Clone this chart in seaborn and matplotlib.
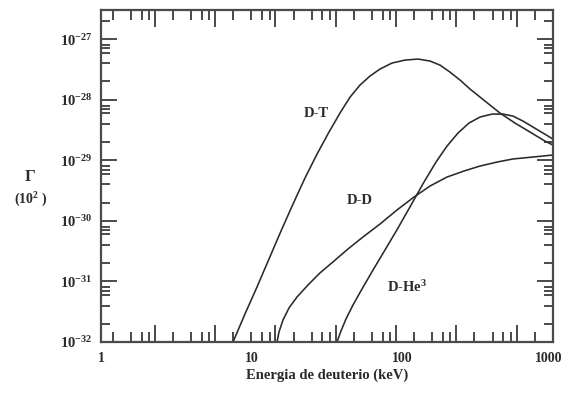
#!/usr/bin/env python3
## reactividad de fusion vs energia de deuterio (log-log)

import matplotlib
matplotlib.use("Agg")
import numpy as np
import pandas as pd
import matplotlib.pyplot as plt
import matplotlib.ticker as mticker
import matplotlib.transforms as mtrans
import seaborn as sns

# valores (keV, reactividad)
dt_energy = [7.52, 9.03, 10.85, 13.03, 15.66, 18.81, 22.59, 27.14, 32.61, 38.58, 44.96, 52.36,
             61.0, 71.07, 85.4, 104.2, 127.0, 152.6, 177.8, 207.2, 241.4, 281.2, 353.8, 444.8,
             559.4, 703.8, 885.0, 1000]
dt_rate = [1.0e-32, 2.9e-32, 8.09e-32, 2.34e-31, 6.79e-31, 1.89e-30, 5.08e-30, 1.26e-29, 2.92e-29,
           6.01e-29, 1.10e-28, 1.74e-28, 2.45e-28, 3.2e-28, 4.02e-28, 4.5e-28, 4.68e-28, 4.34e-28,
           3.72e-28, 2.85e-28, 2.11e-28, 1.5e-28, 9.48e-29, 6.01e-29, 4.11e-29, 2.92e-29,
           2.07e-29, 1.78e-29]

dd_energy = [14.73, 15.18, 16.14, 17.69, 20.0, 23.65, 28.41, 35.19, 43.59, 54.82, 71.07, 92.17,
             119.5, 152.6, 197.9, 256.6, 327.8, 424.9, 542.7, 736.6, 1000]
dd_rate = [1.0e-32, 1.46e-32, 2.31e-32, 3.64e-32, 5.53e-32, 8.73e-32, 1.38e-31, 2.17e-31,
           3.43e-31, 5.41e-31, 8.85e-31, 1.51e-30, 2.47e-30, 3.75e-30, 5.28e-30, 6.64e-30,
           8.02e-30, 9.33e-30, 1.05e-29, 1.13e-29, 1.22e-29]

dhe_energy = [36.84, 39.17, 42.27, 47.05, 53.99, 63.88, 76.73, 93.58, 114.2, 139.3, 167.3, 197.9,
              234.1, 277.0, 327.8, 393.8, 465.7, 542.7, 632.2, 736.6, 858.3, 1000]
dhe_rate = [1.0e-32, 1.52e-32, 2.4e-32, 4.08e-32, 7.5e-32, 1.54e-31, 3.3e-31, 7.6e-31, 1.82e-30,
            4.37e-30, 9.33e-30, 1.71e-29, 2.81e-29, 4.11e-29, 5.16e-29, 5.78e-29, 5.78e-29,
            5.36e-29, 4.43e-29, 3.53e-29, 2.81e-29, 2.24e-29]

x_ticks = [1, 10, 100, 1000]
x_labels = ["1", "10", "100", "1000"]
y_ticks = [1e-32, 1e-31, 1e-30, 1e-29, 1e-28, 1e-27]
y_labels = ["10$^{-32}$", "10$^{-31}$", "10$^{-30}$", "10$^{-29}$", "10$^{-28}$", "10$^{-27}$"]

df = pd.concat([
    pd.DataFrame({"E": dt_energy, "sv": dt_rate, "reac": "D-T"}),
    pd.DataFrame({"E": dd_energy, "sv": dd_rate, "reac": "D-D"}),
    pd.DataFrame({"E": dhe_energy, "sv": dhe_rate, "reac": "D-He3"}),
])

sns.set_style("ticks")
plt.rcParams["font.family"] = ["Liberation Serif", "DejaVu Serif"]
plt.rcParams["font.weight"] = "bold"
plt.rcParams["mathtext.default"] = "regular"

ink = "#2a2a2a"
grey = "#4a4a4a"
fig = plt.figure(figsize=(5.63, 3.98), dpi=100)
ax = fig.add_axes([0.1794, 0.1407, 0.8028, 0.8342])

sns.lineplot(data=df, x="E", y="sv", hue="reac", palette=[ink] * 3, estimator=None,
             sort=False, legend=False, linewidth=1.15, ax=ax)

ax.set_xscale("log")
ax.set_yscale("log")
ax.set_xlim(1, 1000)
ax.set_ylim(1e-32, 10 ** -26.52)

for s in ax.spines.values():
    s.set_color(grey)
    s.set_linewidth(1.6)

# eje x: solo etiquetas en las decadas
ax.xaxis.set_major_locator(mticker.FixedLocator(x_ticks))
ax.xaxis.set_major_formatter(mticker.FixedFormatter(x_labels))
ax.xaxis.set_minor_locator(mticker.NullLocator())
ax.tick_params(axis="x", which="major", length=0, pad=7, labelsize=10, colors=ink)
last = ax.get_xticklabels()[-1]
last.set_transform(last.get_transform() + mtrans.ScaledTranslation(-4 / 100, 0, fig.dpi_scale_trans))

# marcas del eje x (patron de periodo 0.4 decadas como en el original)
longs = [10 ** (0.358 - 0.4 + 0.4 * k) for k in range(10)]
shorts = [l * 10 ** (0.4 * np.log10(m)) for l in longs for m in (2, 4, 6, 8)]
for side in ("bottom", "top"):
    sec = ax.secondary_xaxis(side)
    sec.xaxis.set_major_locator(mticker.FixedLocator(longs))
    sec.xaxis.set_minor_locator(mticker.FixedLocator(shorts))
    sec.xaxis.set_major_formatter(mticker.NullFormatter())
    sec.xaxis.set_minor_formatter(mticker.NullFormatter())
    sec.tick_params(which="major", direction="in", length=12, width=1.4, color=grey)
    sec.tick_params(which="minor", direction="in", length=7, width=1.4, color=grey)
    for s in sec.spines.values():
        s.set_visible(False)

# eje y
ax.yaxis.set_major_locator(mticker.FixedLocator(y_ticks))
ax.yaxis.set_major_formatter(mticker.FixedFormatter(y_labels))
ax.yaxis.set_minor_locator(mticker.LogLocator(base=10, subs=(2, 4, 6, 7, 8), numticks=20))
ax.yaxis.set_minor_formatter(mticker.NullFormatter())
ax.tick_params(axis="y", which="major", direction="in", length=11.5, width=1.4,
               color=grey, right=True, labelsize=10.5, labelcolor=ink, pad=6)
ax.tick_params(axis="y", which="minor", direction="in", length=6.7, width=1.4,
               color=grey, right=True)

ax.set_xlabel("Energia de deuterio (keV)", fontsize=10.5, fontweight="bold", color=ink, labelpad=3)
ax.set_ylabel("")
fig.text(30 / 563, 1 - 177 / 398, "Γ", ha="center", va="center", fontsize=12, color=ink)
fig.text(31 / 563, 1 - 200 / 398, "(10$^{2}$ )", ha="center", va="center", fontsize=10, color=ink)

ax.text(27, 6.0e-29, "D-T", ha="center", va="center", fontsize=10.5, color=ink)
ax.text(52, 2.2e-30, "D-D", ha="center", va="center", fontsize=10.5, color=ink)
ax.text(107, 8.1e-32, "D-He$^3$", ha="center", va="center", fontsize=10.5, color=ink)

fig.savefig("out.png", dpi=100)
plt.close(fig)
